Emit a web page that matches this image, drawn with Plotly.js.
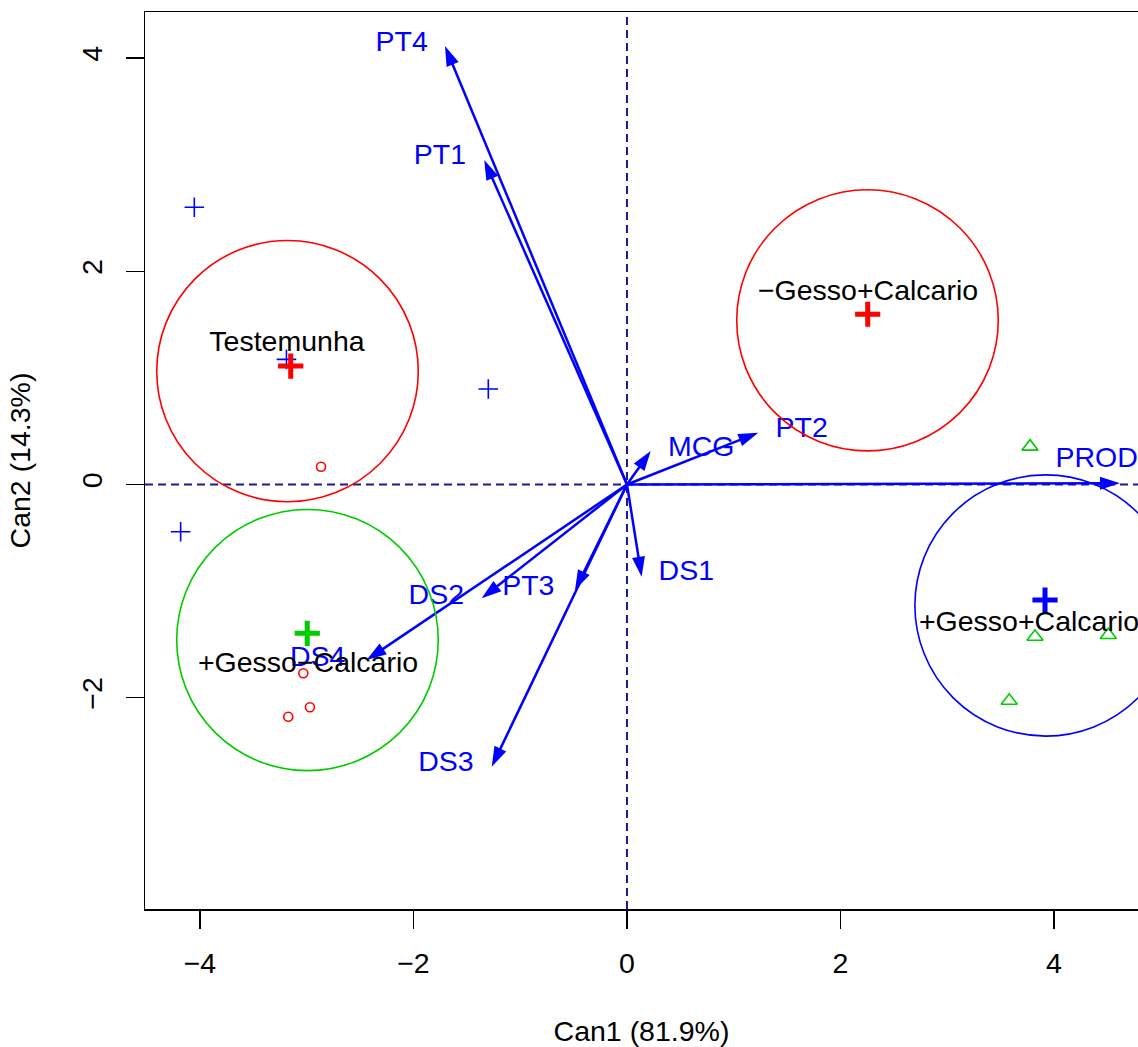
<!DOCTYPE html>
<html>
<head>
<meta charset="utf-8">
<script src="https://cdn.plot.ly/plotly-3.0.1.min.js"></script>
<style>html,body{margin:0;padding:0;overflow:hidden;background:#fff;}</style>
</head>
<body>
<div id="chart" style="width:1138px;height:1047px;"></div>
<script>
// ---- variable vectors (structure coefficients) ----
const varNames = ["PT4", "PT1", "PT2", "MCG", "PROD", "DS1", "DS2", "PT3", "DS3", "DS4"];
const varX     = [-1.705, -1.337, 1.230, 0.222, 4.618, 0.137, -1.361, -0.487, -1.267, -2.439];
const varY     = [ 4.113,  3.044, 0.486, 0.314, 0.012, -0.865, -1.068, -0.990, -2.647, -1.646];
const varLabX  = [-2.111, -1.752, 1.636, 0.696, 4.400, 0.556, -1.786, -0.924, -1.696, -2.897];
const varLabY  = [ 4.132,  3.069, 0.511, 0.336, 0.230, -0.833, -1.052, -0.974, -2.622, -1.637];

// ---- group means, circles, labels ----
const groupNames  = ["Testemunha", "\u2212Gesso+Calcario", "+Gesso\u2212Calcario", "+Gesso+Calcario"];
const groupColors = ["#FF0000", "#FF0000", "#00CD00", "#0000FF"];
const meanX   = [-3.150, 2.255, -2.995, 3.916];
const meanY   = [ 1.111, 1.597, -1.396, -1.084];
const circX   = [-3.180, 2.253, -2.993, 3.922];
const circY   = [ 1.063, 1.540, -1.459, -1.135];
const circR   = [1.225, 1.225, 1.225, 1.225];
const labX    = [-3.185, 2.258, -2.988, 3.766];
const labY    = [ 1.318, 1.799, -1.693, -1.309];

// ---- observations ----
const obsBlueX  = [-4.053, -1.299, -4.181, -3.190];
const obsBlueY  = [ 2.600,  0.896, -0.443,  1.174];
const obsRedX   = [-2.866, -3.032, -2.970, -3.173];
const obsRedY   = [ 0.167, -1.771, -2.090, -2.178];
const obsGreenX = [ 3.775,  3.822,  4.509,  3.581];
const obsGreenY = [ 0.355, -1.428, -1.412, -2.028];

const refLines = [0];

const FONT = "Liberation Sans, Arial, Helvetica, sans-serif";
const FS = 28.5;
const traces = [];

// arrows
varNames.forEach((n, i) => {
  traces.push({
    type: "scatter", mode: "lines+markers",
    x: [0, varX[i]], y: [0, varY[i]],
    line: {color: "#0000FF", width: 2.5},
    marker: {symbol: ["circle", "arrow"], size: [0, 21], color: "#0000FF", opacity: 1, angleref: "previous",
             line: {width: 0}},
    hoverinfo: "skip", showlegend: false, cliponaxis: true
  });
});

// observations
traces.push({type: "scatter", mode: "markers", x: obsBlueX, y: obsBlueY,
  marker: {symbol: "cross-thin-open", size: 14, color: "#0000FF", line: {color: "#0000FF", width: 1.6}}, showlegend: false});
traces.push({type: "scatter", mode: "markers", x: obsRedX, y: obsRedY,
  marker: {symbol: "circle-open", size: 9, color: "#FF0000", line: {color: "#FF0000", width: 1.6}}, showlegend: false});
traces.push({type: "scatter", mode: "markers", x: obsGreenX, y: obsGreenY,
  marker: {symbol: "triangle-up-open", size: 14, color: "#00CD00", line: {color: "#00CD00", width: 1.6}}, showlegend: false});

// group means
traces.push({type: "scatter", mode: "markers", x: meanX, y: meanY,
  marker: {symbol: "cross-thin-open", size: 18, color: groupColors, line: {color: groupColors, width: 5}}, showlegend: false});

// variable labels
const idx = [0, 1, 2, 3, 5, 6, 7, 8, 9];
traces.push({type: "scatter", mode: "text", x: idx.map(i => varLabX[i]), y: idx.map(i => varLabY[i]),
  text: idx.map(i => varNames[i]),
  textposition: "middle center", textfont: {family: FONT, size: FS, color: "#0000FF"},
  showlegend: false, cliponaxis: false});
// PROD label (partly cut by the page edge)
traces.push({type: "scatter", mode: "text", x: [varLabX[4]], y: [varLabY[4]], text: [varNames[4]],
  textposition: "middle center", textfont: {family: FONT, size: FS, color: "#0000FF"},
  showlegend: false, cliponaxis: false});

// group labels
traces.push({type: "scatter", mode: "text", x: labX, y: labY, text: groupNames,
  textposition: "middle center", textfont: {family: FONT, size: FS, color: "#000000"},
  showlegend: false, cliponaxis: false});

const shapes = [];
refLines.forEach(v => {
  shapes.push({type: "line", xref: "x", yref: "paper", x0: v, x1: v, y0: 0, y1: 1,
    line: {color: "#1a1a8c", width: 2, dash: "8px,5px"}, layer: "below"});
  shapes.push({type: "line", xref: "paper", yref: "y", x0: 0, x1: 1, y0: v, y1: v,
    line: {color: "#1a1a8c", width: 2, dash: "8px,5px"}, layer: "below"});
});
circX.forEach((cx, i) => {
  shapes.push({type: "circle", xref: "x", yref: "y",
    x0: cx - circR[i], x1: cx + circR[i], y0: circY[i] - circR[i], y1: circY[i] + circR[i],
    line: {color: groupColors[i], width: 1.6}, layer: "above"});
});

const layout = {
  width: 1138, height: 1047,
  margin: {l: 145, r: 0, t: 12, b: 138},
  paper_bgcolor: "#fff", plot_bgcolor: "#fff",
  font: {family: FONT, size: FS, color: "#000"},
  showlegend: false,
  shapes: shapes,
  xaxis: {
    range: [-4.515, 4.787], tickvals: [-4, -2, 0, 2, 4], ticktext: ["\u22124", "\u22122", "0", "2", "4"],
    showgrid: false, zeroline: false, showline: true, linecolor: "#000", linewidth: 1.5, mirror: true,
    ticks: "outside", ticklen: 18, tickwidth: 1.5, tickcolor: "#000",
    tickfont: {family: FONT, size: FS}, ticklabelstandoff: 10,
    title: {text: "Can1 (81.9%)", font: {family: FONT, size: FS}, standoff: 44}
  },
  yaxis: {
    range: [-3.982, 4.432], tickvals: [-2, 0, 2, 4], ticktext: ["\u22122", "0", "2", "4"],
    showgrid: false, zeroline: false, showline: true, linecolor: "#000", linewidth: 1.5, mirror: false,
    ticks: "outside", ticklen: 18, tickwidth: 1.5, tickcolor: "#000", tickangle: -90,
    tickfont: {family: FONT, size: FS}, ticklabelstandoff: 12,
    title: {text: "Can2 (14.3%)", font: {family: FONT, size: FS}, standoff: 37}
  }
};

Plotly.newPlot("chart", traces, layout, {displayModeBar: false, staticPlot: true});
</script>
</body>
</html>
